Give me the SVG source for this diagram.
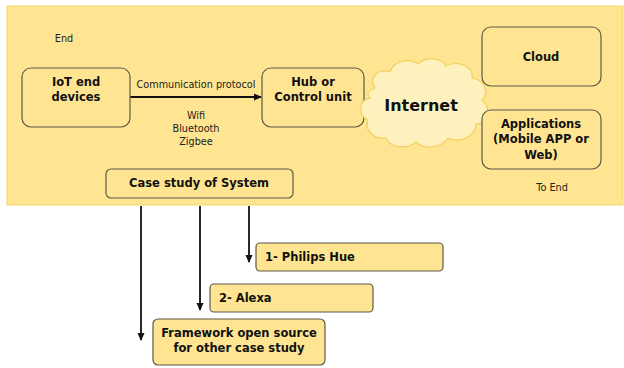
<svg xmlns="http://www.w3.org/2000/svg" width="624" height="368" viewBox="0 0 624 368">
<style>
.box{fill:#FFE591;stroke:#5a5a4a;stroke-width:1.2}
.b{font-family:"DejaVu Sans",Verdana,sans-serif;font-weight:bold;font-size:11.5px;fill:#111;text-anchor:middle}
.n{font-family:"DejaVu Sans",Verdana,sans-serif;font-size:9.7px;fill:#222;text-anchor:middle}
.c{stroke:#111;stroke-width:1.8;fill:none}
</style>
<defs>
<marker id="ah" markerWidth="8" markerHeight="8" refX="7" refY="4" orient="auto" markerUnits="userSpaceOnUse">
<path d="M0,0.5 L8,4 L0,7.5 z" fill="#111"/>
</marker>
</defs>
<rect id="background" x="7" y="6" width="616" height="199" fill="#FFE591" stroke="#F6D56A" stroke-width="1"/>
<text class="n" x="64" y="42">End</text>
<text class="n" x="552" y="191">To End</text>
<g id="connectors">
<line class="c" x1="130" y1="97" x2="261" y2="97" marker-end="url(#ah)"/>
<line class="c" x1="141" y1="206" x2="141" y2="340" marker-end="url(#ah)"/>
<line class="c" x1="200" y1="206" x2="200" y2="310" marker-end="url(#ah)"/>
<line class="c" x1="249" y1="206" x2="249" y2="262" marker-end="url(#ah)"/>
<text class="n" x="196" y="88">Communication protocol</text>
<text class="n" x="196" y="119">Wifi</text>
<text class="n" x="196" y="132">Bluetooth</text>
<text class="n" x="196" y="145">Zigbee</text>
</g>
<g id="iot">
<rect class="box" x="22" y="68" width="108" height="59" rx="9"/>
<text class="b" x="76" y="86">IoT end</text>
<text class="b" x="76" y="101">devices</text>
</g>
<g id="hub">
<rect class="box" x="262" y="68" width="102" height="59" rx="9"/>
<text class="b" x="313" y="86">Hub or</text>
<text class="b" x="313" y="101">Control unit</text>
</g>
<g id="internet">
<path d="M375,88 C368,78 378,68 390,72 C394,60 410,58 418,64 C426,56 442,58 446,66 C458,60 474,66 472,78 C484,80 490,92 482,100 C492,108 488,124 476,124 C476,136 460,144 448,138 C442,148 424,150 416,142 C406,150 390,148 386,138 C374,140 364,130 368,120 C358,116 358,100 370,98 C366,94 368,90 375,88 Z" fill="#FFF1BE" stroke="#F2CF5C" stroke-width="1.2"/>
<text class="b" x="421" y="111" style="font-size:16px">Internet</text>
</g>
<g id="cloud">
<rect class="box" x="482" y="27" width="119" height="59" rx="9"/>
<text class="b" x="541" y="61">Cloud</text>
</g>
<g id="applications">
<rect class="box" x="482" y="110" width="119" height="59" rx="9"/>
<text class="b" x="541" y="128">Applications</text>
<text class="b" x="541" y="143">(Mobile APP or</text>
<text class="b" x="541" y="159">Web)</text>
</g>
<g id="casestudy">
<rect class="box" x="106" y="169" width="187" height="29" rx="5"/>
<text class="b" x="199" y="187">Case study of System</text>
</g>
<g id="philips">
<rect class="box" x="256" y="243" width="187" height="28" rx="4"/>
<text class="b" x="265" y="261" style="text-anchor:start">1- Philips Hue</text>
</g>
<g id="alexa">
<rect class="box" x="210" y="284" width="163" height="28" rx="4"/>
<text class="b" x="219" y="302" style="text-anchor:start">2- Alexa</text>
</g>
<g id="framework">
<rect class="box" x="153" y="319" width="172" height="46" rx="5"/>
<text class="b" x="239" y="337">Framework open source</text>
<text class="b" x="239" y="352">for other case study</text>
</g>
</svg>
